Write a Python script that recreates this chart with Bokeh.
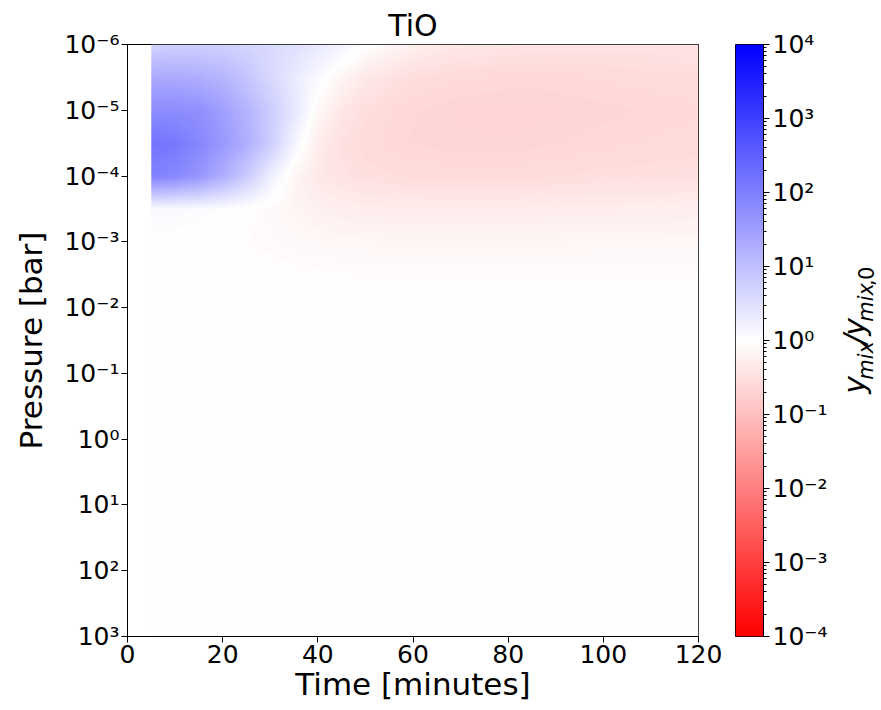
import numpy as np
from bokeh.plotting import figure
from bokeh.layouts import row
from bokeh.models import (Range1d, FixedTicker, LinearColorMapper,
                          CustomJSTickFormatter, ColumnDataSource)
from bokeh.embed import file_html
from bokeh.resources import INLINE
from bokeh.core.properties import value

# ---------------- data ----------------
title_text = "TiO"
x_label = "Time [minutes]"
y_label = "Pressure [bar]"

# time columns [minutes]
times = [5, 10, 15, 20, 25, 30, 35, 40, 45, 50, 55, 60, 70, 80, 90, 100, 110, 120]
# pressure levels, log10(P / bar)
log_pressures = [-6.0, -5.5, -5.0, -4.5, -4.0, -3.5, -3.0, -2.5, -2.0, -1.5, -1.0, 0.0, 1.0, 2.0, 3.0]

# log10(y_mix / y_mix,0) at each pressure level, one value per time column
lr_p_m6_0 = [0.70, 0.75, 0.75, 0.72, 0.66, 0.58, 0.48, 0.34, 0.18, 0.03, -0.12, -0.25, -0.38, -0.42, -0.44, -0.44, -0.44, -0.44]
lr_p_m5_5 = [1.33, 1.32, 1.27, 1.15, 0.90, 0.60, 0.32, 0.08, -0.15, -0.35, -0.46, -0.52, -0.58, -0.60, -0.60, -0.58, -0.56, -0.54]
lr_p_m5_0 = [1.80, 1.80, 1.73, 1.50, 1.18, 0.78, 0.38, -0.12, -0.38, -0.52, -0.58, -0.62, -0.66, -0.67, -0.66, -0.64, -0.62, -0.60]
lr_p_m4_5 = [2.20, 2.10, 1.88, 1.60, 1.25, 0.78, 0.16, -0.30, -0.48, -0.56, -0.60, -0.63, -0.65, -0.65, -0.63, -0.60, -0.58, -0.56]
lr_p_m4_0 = [1.96, 1.85, 1.62, 1.25, 0.80, 0.25, -0.15, -0.35, -0.45, -0.50, -0.52, -0.54, -0.55, -0.55, -0.53, -0.51, -0.50, -0.48]
lr_p_m3_5 = [0.08, 0.08, 0.06, 0.02, -0.03, -0.10, -0.16, -0.22, -0.26, -0.28, -0.30, -0.30, -0.30, -0.30, -0.29, -0.28, -0.27, -0.26]
lr_p_m3_0 = [0.00, 0.00, -0.02, -0.04, -0.06, -0.08, -0.10, -0.12, -0.13, -0.14, -0.15, -0.15, -0.15, -0.15, -0.15, -0.14, -0.14, -0.13]
lr_p_m2_5 = [0.00, 0.00, 0.00, -0.01, -0.02, -0.03, -0.04, -0.05, -0.05, -0.06, -0.06, -0.06, -0.06, -0.06, -0.06, -0.06, -0.06, -0.06]
lr_p_m2_0 = [0.00, 0.00, 0.00, 0.00, 0.00, 0.00, -0.01, -0.01, -0.01, -0.02, -0.02, -0.02, -0.02, -0.02, -0.03, -0.03, -0.03, -0.03]
lr_p_m1_5 = [0.00, 0.00, 0.00, 0.00, 0.00, 0.00, 0.00, 0.00, 0.00, 0.00, 0.00, 0.00, -0.01, -0.01, -0.01, -0.01, -0.01, -0.01]
lr_p_m1_0 = [0.00] * 18
lr_p_0_0 = [0.00] * 18
lr_p_1_0 = [0.00] * 18
lr_p_2_0 = [0.00] * 18
lr_p_3_0 = [0.00] * 18

x_ticks = [0, 20, 40, 60, 80, 100, 120]
y_tick_exponents = [-6, -5, -4, -3, -2, -1, 0, 1, 2, 3]
cbar_tick_exponents = [-4, -3, -2, -1, 0, 1, 2, 3, 4]
cbar_label_pieces = [("y", "main", "italic"), ("mix", "sub", "italic"), ("/", "main", "italic"),
                     ("y", "main", "italic"), ("mix", "sub", "italic"), (",", "sub", "normal"),
                     ("0", "sub", "normal")]

# ---------------- styling helpers ----------------
FONT = "DejaVu Sans"
TICK_FS = "25px"
LABEL_FS = "31px"
TITLE_FS = "30px"


def bwr_r(n=256):
    pal = []
    for i in range(n):
        s = i / (n - 1)
        if s < 0.5:
            r, g, b = 1.0, 2 * s, 2 * s
        else:
            r, g, b = 2 - 2 * s, 2 - 2 * s, 1.0
        pal.append("#%02x%02x%02x" % (round(r * 255), round(g * 255), round(b * 255)))
    return pal


mapper = LinearColorMapper(palette=bwr_r(), low=-4, high=4)

pow_fmt = CustomJSTickFormatter(code="""
const sup = {"-":"\\u207b","0":"\\u2070","1":"\\u00b9","2":"\\u00b2","3":"\\u00b3",
             "4":"\\u2074","5":"\\u2075","6":"\\u2076","7":"\\u2077","8":"\\u2078","9":"\\u2079"};
const e = Math.round(Math.log10(tick));
return "10" + String(e).split("").map(c => sup[c]).join("");
""")

# grid of values (rows: pressure from top 1e-6 downward)
grid = np.array([lr_p_m6_0, lr_p_m5_5, lr_p_m5_0, lr_p_m4_5, lr_p_m4_0, lr_p_m3_5,
                 lr_p_m3_0, lr_p_m2_5, lr_p_m2_0, lr_p_m1_5, lr_p_m1_0, lr_p_0_0,
                 lr_p_1_0, lr_p_2_0, lr_p_3_0], dtype=float)

# smooth (gouraud-like) shading of the grid for display
nt, npix = 552, 592
fine_t = np.linspace(times[0], times[-1], nt)
fine_lp = np.linspace(log_pressures[0], log_pressures[-1], npix)
tmp = np.array([np.interp(fine_t, times, r) for r in grid])
shade = np.array([np.interp(fine_lp, log_pressures, tmp[:, j]) for j in range(nt)]).T.astype(np.float32)

# ---------------- main figure ----------------
p = figure(width=735, height=710, x_range=Range1d(0, 120), y_range=Range1d(1e3, 1e-6),
           y_axis_type="log", output_backend="svg", toolbar_location=None,
           min_border_left=127, min_border_right=37, min_border_top=44, min_border_bottom=74,
           title=title_text)
p.image(image=[shade], x=times[0], y=10.0 ** log_pressures[0],
        dw=times[-1] - times[0], dh=10.0 ** log_pressures[-1] - 10.0 ** log_pressures[0],
        color_mapper=mapper)

p.grid.visible = False
p.outline_line_color = "black"
p.outline_line_width = 1
p.background_fill_color = "white"
p.border_fill_color = "white"

p.title.text_font = FONT
p.title.text_font_size = TITLE_FS
p.title.text_font_style = "normal"
p.title.align = "center"
p.title.text_color = "black"
p.title.standoff = 4

p.xaxis.ticker = FixedTicker(ticks=x_ticks)
p.yaxis.ticker = FixedTicker(ticks=[10.0 ** e for e in y_tick_exponents])
p.yaxis.formatter = pow_fmt
p.xaxis.axis_label = x_label
p.yaxis.axis_label = y_label
for ax in (p.xaxis, p.yaxis):
    ax.axis_label_text_font = FONT
    ax.axis_label_text_font_size = LABEL_FS
    ax.axis_label_text_font_style = "normal"
    ax.axis_label_text_color = "black"
    ax.major_label_text_font = FONT
    ax.major_label_text_font_size = TICK_FS
    ax.major_label_text_color = "black"
    ax.major_tick_out = 6
    ax.major_tick_in = 0
    ax.minor_tick_line_color = None
    ax.axis_line_color = "black"
    ax.major_tick_line_color = "black"
    ax.major_label_standoff = 2
p.xaxis.axis_label_standoff = 0
p.yaxis.axis_label_standoff = 12

# ---------------- colour bar ----------------
cb = figure(width=95, height=710, x_range=Range1d(0, 1),
            y_range=Range1d(10.0 ** cbar_tick_exponents[0], 10.0 ** cbar_tick_exponents[-1]),
            y_axis_type="log", y_axis_location="right", x_axis_location=None,
            output_backend="svg", toolbar_location=None,
            min_border_left=0, min_border_right=64, min_border_top=44, min_border_bottom=74)
cvals = np.linspace(cbar_tick_exponents[0], cbar_tick_exponents[-1], 512).reshape(-1, 1).astype(np.float32)
cb.image(image=[cvals], x=0, y=10.0 ** cbar_tick_exponents[0], dw=1,
         dh=10.0 ** cbar_tick_exponents[-1] - 10.0 ** cbar_tick_exponents[0], color_mapper=mapper)
cb.grid.visible = False
cb.outline_line_color = "black"
cb.border_fill_color = "white"
minor = [k * 10.0 ** e for e in cbar_tick_exponents[:-1] for k in range(2, 10)]
cb.yaxis.ticker = FixedTicker(ticks=[10.0 ** e for e in cbar_tick_exponents], minor_ticks=minor)
cb.yaxis.formatter = pow_fmt
cb.yaxis.major_label_text_font = FONT
cb.yaxis.major_label_text_font_size = TICK_FS
cb.yaxis.major_label_text_color = "black"
cb.yaxis.major_tick_out = 6
cb.yaxis.major_tick_in = 0
cb.yaxis.minor_tick_out = 3
cb.yaxis.minor_tick_in = 0
cb.yaxis.axis_line_color = "black"
cb.yaxis.major_label_standoff = 3

# ---------------- colour bar label (rotated, with subscripts) ----------------
X0 = 735 + 95
LW = 881 - X0
lab = figure(width=LW, height=710, x_range=Range1d(X0, 881), y_range=Range1d(0, 710),
             x_axis_location=None, y_axis_location=None, output_backend="svg",
             toolbar_location=None, min_border=0)
lab.grid.visible = False
lab.outline_line_color = None
lab.border_fill_color = "white"
lab.background_fill_color = "white"

adv = {"y": 0.592, "m": 0.974, "i": 0.278, "x": 0.592, "/": 0.337, ",": 0.318, "0": 0.636}
size_px = {"main": 30, "sub": 21}
baseline_x = {"main": 864, "sub": 873}
xs, ys, ts, fss, sts = [], [], [], [], []
pos = 710 - 417.0
for txt, kind, style in cbar_label_pieces:
    w = sum(adv[c] for c in txt) * size_px[kind]
    xs.append(baseline_x[kind] - 0.346 * size_px[kind])
    ys.append(pos + w / 2)
    ts.append(txt)
    fss.append("%dpx" % size_px[kind])
    sts.append(style)
    pos += w + 1
src = ColumnDataSource(dict(x=xs, y=ys, text=ts, fs=fss, st=sts))
lab.text(x="x", y="y", text="text", source=src, angle=np.pi / 2, text_font=value(FONT),
         text_font_size="fs", text_font_style="st", text_align="center",
         text_baseline="middle", text_color="black")

layout = row(p, cb, lab)
open("out.html", "w").write(file_html(layout, INLINE))
